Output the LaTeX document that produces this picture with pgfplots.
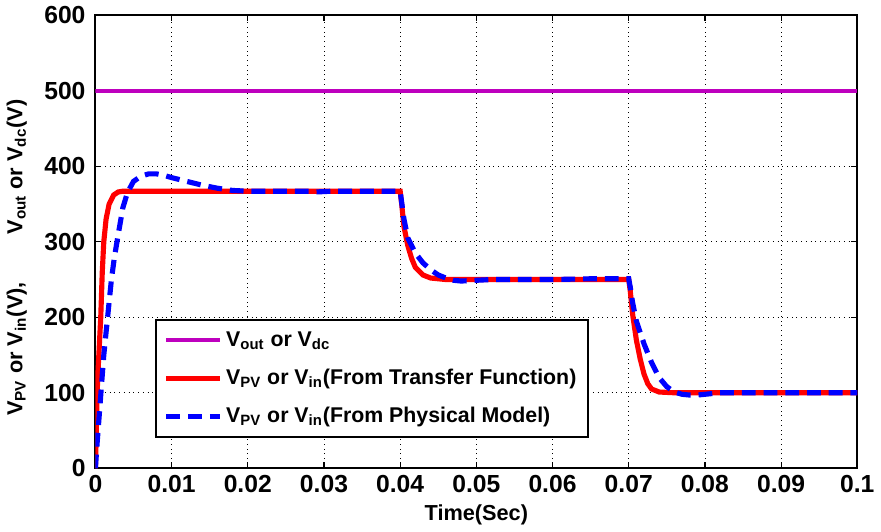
\documentclass[border=0pt]{standalone}
\usepackage{fontspec}
\setmainfont{Liberation Sans}
\usepackage{pgfplots}
\pgfplotsset{compat=1.18}
\definecolor{vout}{RGB}{190,0,190}
\begin{document}
\begin{tikzpicture}
\begin{axis}[
  scale only axis,
  width=386pt, height=229.5pt,
  xmin=0, xmax=0.1, ymin=0, ymax=600,
  xtick={0,0.01,...,0.1},
  xticklabels={0,0.01,0.02,0.03,0.04,0.05,0.06,0.07,0.08,0.09,0.1},
  ytick={0,100,...,600},
  tick align=inside,
  major tick length=3pt,
  grid=major,
  major grid style={black, dotted, line width=0.4pt},
  axis line style={line width=1.1pt},
  tick style={black, line width=0.6pt},
  /pgf/number format/assume math mode=true,
  font=\bfseries\fontsize{11}{13}\selectfont,
  ticklabel style={font=\bfseries\fontsize{12.5}{14}\selectfont},
  yticklabel style={xshift=-1.5pt},
  xlabel={Time(Sec)},
  ylabel={V\textsubscript{PV} or V\textsubscript{in}(V),\hspace{2.2em}V\textsubscript{out} or V\textsubscript{dc}(V)},
  xlabel style={yshift=1pt},
  ylabel style={yshift=2pt, xshift=-8pt},
  legend style={at={(rel axis cs:0.078,0.066)}, anchor=south west, draw=black, line width=1.1pt, font=\bfseries\fontsize{10.8}{13}\selectfont, row sep=6pt, inner xsep=4pt, inner ysep=4pt},
  legend cell align=left,
  legend image code/.code={\draw[#1] plot coordinates {(0pt,0pt) (27pt,0pt)};},
]
\addplot[vout, line width=2pt] coordinates {(0,500) (0.1,500)};
\addlegendentry{V\textsubscript{out} or V\textsubscript{dc}}
\addplot[red, line width=2.6pt] coordinates {
(0,0) (0.0001,40) (0.0002,90) (0.0003,120) (0.0005,160) (0.0007,200) (0.0009,260) (0.0011,300)
(0.0014,330) (0.0018,350) (0.0024,362) (0.003,366) (0.0036,367) (0.04,367)
(0.0402,350) (0.0405,320) (0.041,295) (0.0415,278) (0.042,266) (0.043,256) (0.044,252) (0.046,250) (0.07,250)
(0.0702,235) (0.0705,205) (0.071,170) (0.0715,145) (0.072,125) (0.0725,112) (0.073,105) (0.074,101) (0.076,100) (0.1,100)};
\addlegendentry{V\textsubscript{PV} or V\textsubscript{in}(From Transfer Function)}
\addplot[blue, line width=2.6pt, dash pattern=on 7pt off 4pt] coordinates {
(0,0) (0.0002,30) (0.0005,70) (0.0008,110) (0.0011,150) (0.0014,180) (0.0017,210) (0.0021,250)
(0.0025,280) (0.003,310) (0.0036,345) (0.0042,365) (0.005,380) (0.006,387) (0.007,390) (0.008,390)
(0.009,388) (0.010,385) (0.012,380) (0.014,375) (0.016,371) (0.018,368) (0.020,367) (0.028,367)
(0.029,366) (0.031,367) (0.04,367)
(0.0402,352) (0.0405,330) (0.041,305) (0.042,285) (0.043,272) (0.044,263) (0.045,256) (0.046,252)
(0.047,249) (0.048,248) (0.05,249) (0.052,250) (0.06,250) (0.065,251) (0.07,251)
(0.0702,240) (0.0705,220) (0.071,195) (0.072,165) (0.073,140) (0.074,120) (0.075,108) (0.076,101)
(0.077,98) (0.078,97) (0.079,97) (0.080,98) (0.082,100) (0.1,100)};
\addlegendentry{V\textsubscript{PV} or V\textsubscript{in}(From Physical Model)}
\end{axis}
\end{tikzpicture}
\end{document}
